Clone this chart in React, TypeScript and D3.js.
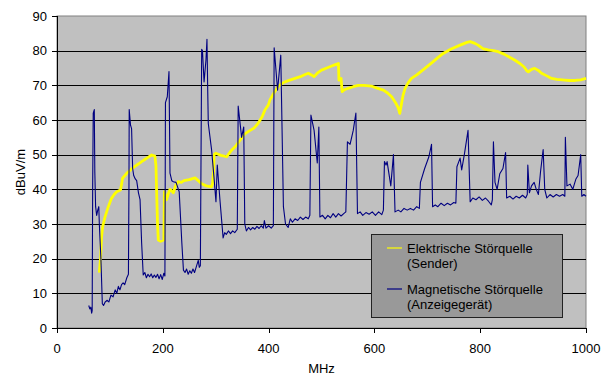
import React from "react";
import * as d3 from "d3";

const magFreq = [60,62,64,65.5,66.5,67.4,68.5,70.5,71.5,73,75,77,79,80,83,85.7,88,91,95,98,102,106,110,113,116,119,122,125,128,132,135,136,136.5,139,141,143,145,148,150.6,154,157,160,163,166,169,172,175,178,181,184,187,190,193,196,199,202,204,205,208.5,211.7,213.6,217,220,225,231,236,239,242,245,248,251,254,257,260,263,267,269,271,273.5,275,278,281.6,283.5,284.8,286,292.3,296.7,300.5,303,308,314,317,320,324,328,332,336,340.8,342.5,349,353,355,358,362,366,370,374,378,382,386,390,392,395,400,405,409,410.5,417,423,428,432,437,441,445,450,455,460,465,470,475,478,480,486,492,495,497,502,507,512,517,522,527,532,537,542,546,549,554,560,565,568,573,578,584,590,596,602,608,614,617,619,622,624,631,636,639,645,650,656,662,668,674,680,685,687,695,703,708,710,715,720,726,732,738,744,750,754,756,762,765,770,777,781,786,792,798,804,810,816,821,823,825,828,832,837,843,848,850,856,862,868,874,880,886,889,890,893,897,902,906,910,914,919,922,926,932,938,944,950,956,960,961,964,970,975,981,985,990,992,996,1000];
const magValues = [6.5,5.5,6,4.3,5,40,62,63,45,35,32.5,34,35,30,20,7,6.5,7.5,8,7.5,9.5,9,11,10,12,11,12.5,13,12.5,14.5,15.5,40,63,58.5,57.5,46,44,43,42.5,39,37,24.5,15.3,16,14.5,15.5,14.8,15.6,14.5,15.3,14.6,15.5,14.2,15.4,14,15.8,15,65,66.7,74,44.7,42.5,42.2,42,39.3,24.5,16.7,16,17,15.5,16.5,15.8,17,16,17.5,19.5,17.5,18,80.4,80,71,77.3,83.3,69.6,59,51.3,43.6,36.4,47,37,26,27.5,27,28,27.2,28,27.5,28.5,64,55,58,30,28,29,28.3,29,28.5,29.3,28.7,29.5,28.8,31,28.8,29.5,28.8,29.5,80.8,68.6,78.7,35,30,29,31.5,30.5,31.5,31,32,31.3,32,31.5,32.5,61.4,57,47.6,58,32,32.5,31.5,32.5,31.8,33,32,33,32.3,33,33.5,53.7,53,57,62,33,33.5,32.5,33.3,32.8,33.5,32.5,33.5,32.7,34,48,47,48,41,50,33.5,34,33.5,34.5,34,34.5,34,35,34.5,42,46,49.4,53,35,35.5,35,36,35.3,36,35.5,36.2,36,46.5,49,45.6,50,57,36.4,37.5,37,37.8,36.8,37.5,36.5,35.5,37,53.7,42,40,44.5,46,50.6,37.5,38,37.2,38,37.5,38.3,37.5,38.5,47,39,41,42,40,38.5,45,51.5,40,37.5,38.5,37.8,38.5,38,38.5,38,55,41,41.5,40,43,44,50,38,38.5,38];

const elecFreq = [80,82.6,84,86.3,90.7,97,103,108,112.8,120,122,124,131.7,139,146,153.7,160,166,172,179,185,187,188.4,190,191.5,196,202,203,207,211,213.6,217,220,224,229,235,240,250,261,267,273.5,282,292,294,296,297,300,310,320.7,330,338,346,355,365,372,380,388,393,399.4,402.6,410,418,425,431,440,450,460,467,475,481,486,492,500,510,518,525,532,533,537,539,544,550,560,569.5,580,594,605,617,625,632.6,640,645,648,651,654,658,664,670,680,695.5,710,720,730,745,762,775,781,790,796,805,815,825,834,845,853,865,875,883,888,891,897,903,910,916,925,935,945,960,970,979,990,1000];
const elecValues = [16,20.6,26,29.2,32,35,37.4,38.5,39.3,39.8,41.5,43.2,44.6,45.6,46.5,47.3,48,48.6,49.2,49.9,49.6,47,39,30,25.4,25,25.4,39.3,37,39,40,39.5,39,41,42.2,42,42.5,42.8,43.3,42.5,41.6,41,40.7,41.6,45,50,50.4,49.8,49.4,51.3,52.5,54.2,56,57,57.6,59,61,62.9,64.3,65.8,67.8,69.6,70.5,71,71.5,72,72.5,73,73.5,73,72.5,73.5,74.4,75,75.5,75.9,76.3,71.5,72,68.2,68.8,69.1,69.6,70,70,69.8,69.2,68.6,67.8,66.7,65,63.5,61.9,64.5,67,69.1,70.8,72,73,74.9,76.7,78,79.2,80.5,81.6,82.4,82.6,82.1,81.6,80.6,80.2,80,79.7,79,78.3,77.3,76.3,75.3,74.2,73.9,74.6,74.9,74.3,73.5,72.8,72,71.7,71.5,71.4,71.4,71.6,72];

const xTicks = [0, 200, 400, 600, 800, 1000];
const yTicks = [0, 10, 20, 30, 40, 50, 60, 70, 80, 90];
const legendLabels = [["Elektrische Störquelle", "(Sender)"], ["Magnetische Störquelle", "(Anzeigegerät)"]];
const seriesColors = ["#ffff00", "#000080"];

export default function App() {
  const left = 57, right = 586, top = 16, bottom = 328;
  const x = d3.scaleLinear().domain([0, 1000]).range([left, right]);
  const y = d3.scaleLinear().domain([0, 90]).range([bottom, top]);
  const line = d3.line<[number, number]>().x(d => x(d[0])).y(d => y(d[1]));
  const magPath = line(magFreq.map((f, i) => [f, magValues[i]]) as [number, number][]) || "";
  const elecPath = line(elecFreq.map((f, i) => [f, elecValues[i]]) as [number, number][]) || "";
  const font = "'Liberation Sans', Arial, sans-serif";
  const fs = 13;
  return (
    <svg width={609} height={376} style={{ position: "absolute", left: 0, top: 0, background: "#fff" }} fontFamily={font}>
      <rect x={left} y={top} width={right - left} height={bottom - top} fill="#c0c0c0" stroke="#808080" strokeWidth={1} />
      {yTicks.filter(t => t > 0 && t < 90).map(t => (
        <line key={t} x1={left} x2={right} y1={Math.round(y(t)) + 0.5} y2={Math.round(y(t)) + 0.5} stroke="#000" strokeWidth={1} />
      ))}
      <path d={elecPath} fill="none" stroke={seriesColors[0]} strokeWidth={2.8} strokeLinejoin="round" />
      <path d={magPath} fill="none" stroke={seriesColors[1]} strokeWidth={1.1} strokeLinejoin="round" />
      <line x1={left + 0.5} x2={left + 0.5} y1={top} y2={bottom} stroke="#000" />
      <line x1={left} x2={right} y1={bottom + 0.5} y2={bottom + 0.5} stroke="#000" />
      {yTicks.map(t => (
        <g key={t}>
          <line x1={left - 5} x2={left} y1={Math.round(y(t)) + 0.5} y2={Math.round(y(t)) + 0.5} stroke="#000" />
          <text x={47} y={y(t) + 4.5} textAnchor="end" fontSize={fs} fill="#000">{t}</text>
        </g>
      ))}
      {xTicks.map(t => (
        <g key={t}>
          <line x1={Math.round(x(t)) + 0.5} x2={Math.round(x(t)) + 0.5} y1={bottom} y2={bottom + 5} stroke="#000" />
          <text x={x(t)} y={353} textAnchor="middle" fontSize={fs} fill="#000">{t}</text>
        </g>
      ))}
      <text x={(left + right) / 2} y={373} textAnchor="middle" fontSize={fs} fill="#000">MHz</text>
      <text transform={`translate(25,${(top + bottom) / 2}) rotate(-90)`} textAnchor="middle" fontSize={fs} fill="#000">dBuV/m</text>
      <rect x={371.5} y={234.5} width={191} height={83} fill="#999999" stroke="#222" strokeWidth={1} />
      {legendLabels.map((lab, i) => {
        const ly = i === 0 ? 248 : 289;
        return (
          <g key={i}>
            <line x1={387} x2={402} y1={ly} y2={ly} stroke={seriesColors[i]} strokeWidth={1.2} />
            <text x={407} y={ly + 4.5} fontSize={fs} fill="#000">{lab[0]}</text>
            <text x={407} y={ly + 19.5} fontSize={fs} fill="#000">{lab[1]}</text>
          </g>
        );
      })}
    </svg>
  );
}
